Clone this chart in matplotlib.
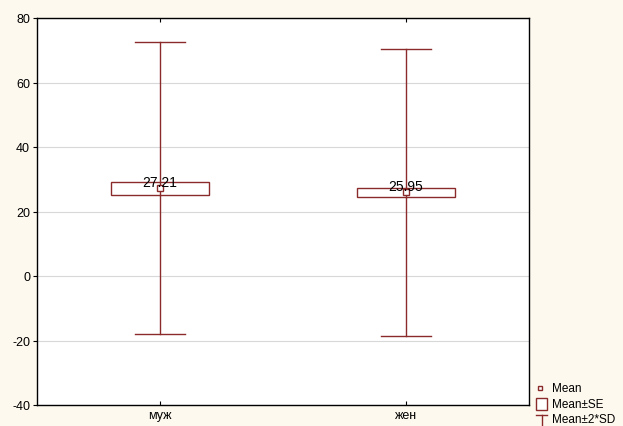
import numpy as np
import matplotlib.pyplot as plt
from matplotlib.patches import Rectangle

plt.rcParams['font.family'] = ['Liberation Sans', 'DejaVu Sans']
plt.rcParams['font.size'] = 9
plt.rcParams['axes.unicode_minus'] = False

# group statistics
groups = ['муж', 'жен']
means = [27.21, 25.95]
se = [1.98, 1.42]
sd = [22.65, 22.25]

red = '#8b2a2a'
bg = '#fdf9ee'

W, H = 623, 427
fig = plt.figure(figsize=(W / 100, H / 100), dpi=100, facecolor=bg)
ax = fig.add_axes([37 / W, 1 - 406 / H, 492 / W, 387 / H])
ax.set_facecolor('white')

x = np.arange(len(groups))
box_w = 0.40
cap_w = 0.20
for xi, m, s, d in zip(x, means, se, sd):
    lo, hi = m - 2 * d, m + 2 * d
    ax.plot([xi, xi], [lo, hi], color=red, lw=1, zorder=2)
    ax.plot([xi - cap_w / 2, xi + cap_w / 2], [hi, hi], color=red, lw=1, zorder=2)
    ax.plot([xi - cap_w / 2, xi + cap_w / 2], [lo, lo], color=red, lw=1, zorder=2)
    ax.add_patch(Rectangle((xi - box_w / 2, m - s), box_w, 2 * s,
                           facecolor='white', edgecolor=red, lw=1, zorder=3))
    ax.plot([xi, xi], [m - s, m + s], color=red, lw=1, zorder=3.5)
    ax.plot(xi, m, 's', ms=5, mfc='white', mec=red, mew=1, zorder=4)
    ax.text(xi, m + 0.6, f'{m:.2f}', ha='center', va='baseline', fontsize=10, zorder=5)

ax.set_xlim(-0.5, 1.5)
ax.set_ylim(-40, 80)
ax.set_yticks(np.arange(-40, 81, 20))
ax.set_xticks(x)
ax.set_xticklabels(groups)
ax.yaxis.grid(True, color='#d8d8d8', lw=0.8)
ax.set_axisbelow(True)
ax.tick_params(axis='x', direction='in', length=3, top=True, pad=3)
ax.tick_params(axis='y', direction='out', length=3, pad=2)
for sp in ax.spines.values():
    sp.set_color('black')
    sp.set_linewidth(1)

# legend drawn in pixel coordinates on an overlay
lg = fig.add_axes([0, 0, 1, 1], facecolor='none')
lg.set_xlim(0, W)
lg.set_ylim(H, 0)
lg.axis('off')
lg.add_patch(Rectangle((538, 387), 4, 4, facecolor='white', edgecolor=red, lw=1))
lg.add_patch(Rectangle((536, 399), 11, 12, facecolor='white', edgecolor=red, lw=1))
lg.plot([536, 547], [416, 416], color=red, lw=1)
lg.plot([541.5, 541.5], [416, 427], color=red, lw=1)
for ty, label in zip([389, 405, 420], ['Mean', 'Mean±SE', 'Mean±2*SD']):
    lg.text(552, ty, label, ha='left', va='center', fontsize=8.5)

fig.savefig('out.png', dpi=100, facecolor=bg)
